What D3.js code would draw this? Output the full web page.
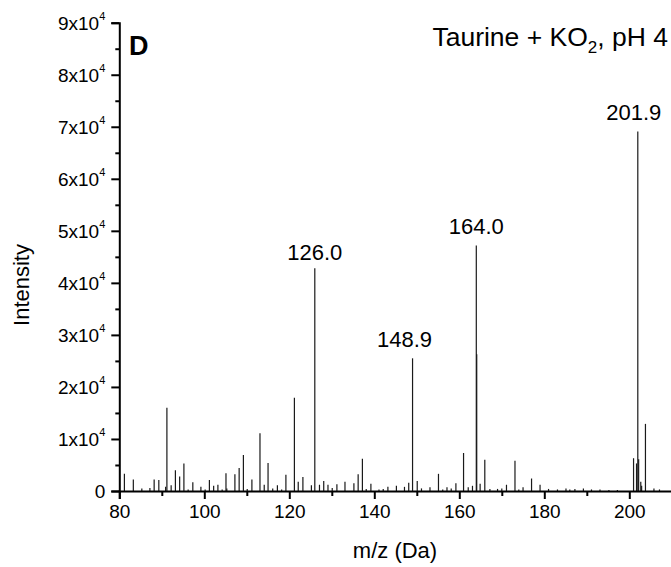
<!DOCTYPE html>
<html>
<head>
<meta charset="utf-8">
<script src="https://cdn.jsdelivr.net/npm/d3@7"></script>
<style>
  body { margin: 0; background: #fff; }
  svg { display: block; }
  text { font-family: "Liberation Sans", Arial, sans-serif; fill: #000; }
</style>
</head>
<body>
<svg id="chart" width="671" height="567"></svg>
<script>
// m/z of each line in the spectrum and its intensity
const mz = [81.2, 83.3, 85.3, 87.2, 88.2, 89.3, 90.9, 91.2, 92.2, 93.2, 94.2, 95.2, 96.2, 97.3, 99.2,
  100.2, 101.2, 102.2, 103.2, 104.2, 105.1, 105.3, 107.2, 108.2, 109.2, 110.1, 111.2, 113.1, 114.1,
  115.0, 116.1, 117.2, 118.2, 119.2, 121.2, 122.1, 123.2, 125.2, 126.0, 127.1, 128.1, 129.1, 130.1,
  131.2, 133.1, 135.2, 136.2, 137.2, 138.1, 139.2, 141.1, 142.1, 143.2, 145.2, 147.1, 148.1, 149.0,
  150.1, 151.1, 153.1, 155.1, 156.1, 157.1, 158.1, 159.2, 161.0, 162.1, 163.1, 164.0, 164.1, 164.9,
  166.0, 167.2, 169.0, 170.0, 171.1, 173.1, 174.0, 175.0, 177.0, 179.0, 181.0, 183.1, 185.1, 186.0,
  187.2, 189.2, 191.1, 193.1, 195.2, 197.2, 201.0, 201.7, 202.0, 202.2, 202.7, 202.9, 203.8, 205.8, 207.1];
const intensity = [3300, 2200, 500, 600, 2200, 2100, 800, 16000, 1100, 4000, 2800, 5300, 300, 1700, 800,
  300, 2100, 1000, 1200, 300, 3400, 500, 3200, 4400, 6900, 400, 2200, 11100, 1200,
  5400, 500, 1100, 300, 3100, 17900, 1800, 2700, 1100, 42800, 1200, 1900, 1200, 600,
  1300, 1800, 1500, 3200, 6200, 400, 1400, 300, 400, 800, 1000, 800, 1600, 25500,
  1900, 500, 700, 3300, 300, 700, 500, 1500, 7300, 700, 1000, 47200, 26300, 1400,
  6000, 400, 400, 500, 1200, 5800, 300, 700, 2400, 1200, 400, 300, 500, 300,
  400, 500, 300, 300, 200, 200, 6300, 5300, 69100, 6100, 1800, 1000, 12900, 500, 300];

// annotated peaks
const peakText = ["126.0", "148.9", "164.0", "201.9"];
const peakMz = [126.0, 149.0, 164.0, 202.0];
const peakValue = [42800, 25500, 47200, 69100];

const xTicks = [80, 100, 120, 140, 160, 180, 200];
const xMinor = [90, 110, 130, 150, 170, 190, 210];
const yTicks = [0, 10000, 20000, 30000, 40000, 50000, 60000, 70000, 80000, 90000];
const yMinor = [5000, 15000, 25000, 35000, 45000, 55000, 65000, 75000, 85000];

const svg = d3.select("#chart");
const x = d3.scaleLinear().domain([80, 210]).range([119.3, 671.8]);
const y = d3.scaleLinear().domain([0, 90000]).range([491, 22.7]);

// spectrum lines
svg.append("g")
  .selectAll("line")
  .data(mz)
  .join("line")
  .attr("x1", d => x(d))
  .attr("x2", d => x(d))
  .attr("y1", y(0))
  .attr("y2", (d, i) => y(intensity[i]))
  .attr("stroke", "#1a1a1a")
  .attr("stroke-width", 1.2);

// x axis
const xAxis = svg.append("g").attr("transform", `translate(0,${y(0)})`);
xAxis.call(d3.axisBottom(x).tickValues(xTicks).tickSize(8).tickPadding(6).tickFormat(d3.format("d")));
xAxis.append("g").call(d3.axisBottom(x).tickValues(xMinor).tickSize(5).tickFormat(""))
  .select(".domain").remove();
xAxis.selectAll("text").attr("font-size", 19).attr("font-family", "Liberation Sans, Arial, sans-serif");
xAxis.selectAll(".domain").attr("stroke-width", 2);
xAxis.selectAll(".tick line").attr("stroke-width", 2);

// y axis
const yAxis = svg.append("g").attr("transform", `translate(${x(80)},0)`);
yAxis.call(d3.axisLeft(y).tickValues(yTicks).tickSize(8).tickPadding(6).tickFormat(""));
yAxis.append("g").call(d3.axisLeft(y).tickValues(yMinor).tickSize(4).tickFormat(""))
  .select(".domain").remove();
yAxis.selectAll(".domain").attr("stroke-width", 2);
yAxis.selectAll(".tick line").attr("stroke-width", 2);

// y tick labels like 9x10^4
const yLab = svg.append("g").selectAll("text").data(yTicks).join("text")
  .attr("x", x(80) - 14)
  .attr("y", d => y(d) + 7)
  .attr("text-anchor", "end")
  .attr("font-size", 19);
yLab.each(function (d) {
  const t = d3.select(this);
  if (d === 0) { t.text("0"); return; }
  t.append("tspan").text(d / 10000 + "x10");
  t.append("tspan").attr("font-size", 11).attr("dy", -10).text("4");
});

// peak annotations (148.9 and 201.9 sit a little left of their line)
const peakNudge = d => d === "148.9" ? -8 : d === "201.9" ? -4 : 0;
svg.append("g").selectAll("text").data(peakText).join("text")
  .attr("x", (d, i) => x(peakMz[i]) + peakNudge(d))
  .attr("y", (d, i) => y(peakValue[i]) - (d === "126.0" ? 8 : 11))
  .attr("text-anchor", "middle")
  .attr("font-size", 22)
  .text(d => d);

// axis titles
svg.append("text")
  .attr("x", 395).attr("y", 558)
  .attr("text-anchor", "middle")
  .attr("font-size", 22)
  .text("m/z (Da)");

svg.append("text")
  .attr("transform", "translate(29,285) rotate(-90)")
  .attr("text-anchor", "middle")
  .attr("font-size", 22)
  .text("Intensity");

// panel letter and condition
svg.append("text")
  .attr("x", 129).attr("y", 55)
  .attr("font-size", 27)
  .attr("font-weight", "bold")
  .text("D");

const title = svg.append("text")
  .attr("x", 668).attr("y", 46)
  .attr("text-anchor", "end")
  .attr("font-size", 26.5);
title.append("tspan").text("Taurine + KO");
title.append("tspan").attr("font-size", 17).attr("dy", 7).text("2");
title.append("tspan").attr("dy", -7).text(", pH 4");
</script>
</body>
</html>
